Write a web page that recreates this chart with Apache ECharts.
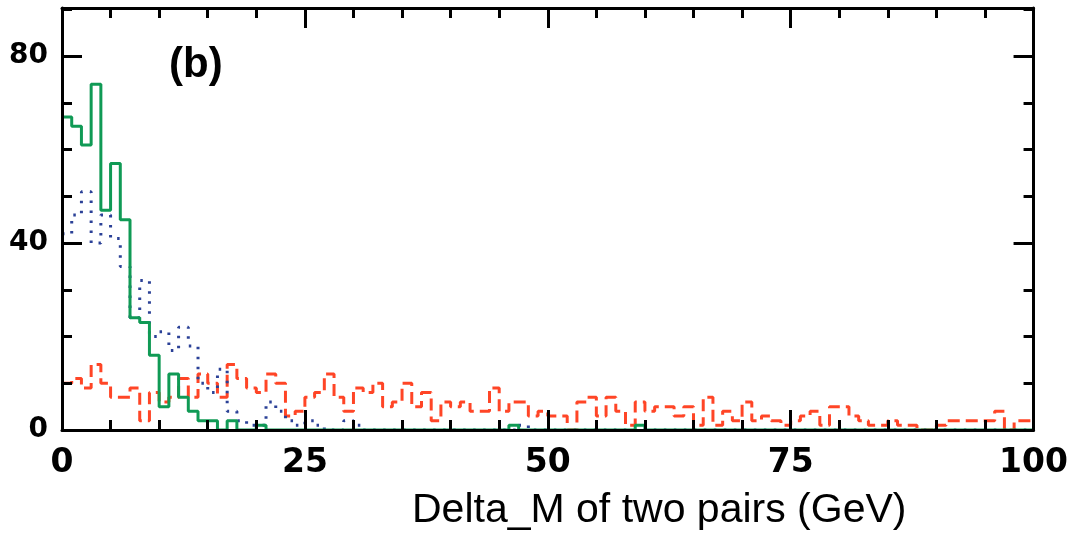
<!DOCTYPE html>
<html><head><meta charset="utf-8">
<script src="https://cdn.jsdelivr.net/npm/echarts@6/dist/echarts.min.js"></script>
<style>html,body{margin:0;padding:0;background:#fff}#c{width:1071px;height:535px}</style>
</head><body><div id="c"></div>
<script>
const binStart = 0, binWidth = 1;
const greenCounts = [67,65,61,74,47,57,45,24,23,16, 5,12,7,4,2,2,0,2,0,0, 1,0,0,0,0,0,0,0,0,0,
  0,0,0,0,0,0,0,0,0,0, 0,0,0,0,0,0,1,0,0,0, 0,0,0,0,0,0,0,0,0,1,
  0,0,0,0,0,0,0,0,0,0, 0,0,0,0,0,0,0,0,0,0, 0,0,0,0,0,0,0,0,0,0, 0,0,0,0,0,0,0,0,0,0];
const blueCounts = [42,46,51,40,46,41,35,24,32,20, 21,17,22,18,10,8,13,4,2,1, 1,6,4,2,1,2,1,0,0,2,
  1,0,0,0,0,0,0,0,0,0, 0,0,0,0,0,0,0,1,0,0, 0,0,0,0,0,0,0,0,0,0,
  0,0,0,0,0,0,0,0,0,0, 0,0,0,0,0,0,0,0,0,0, 0,0,0,0,0,0,0,0,0,0, 0,0,0,0,0,0,0,0,0,0];
const redCounts = [10,11,9,14,10,7,7,9,2,8, 6,7,11,7,12,10,7,14,11,9, 8,12,10,3,4,7,8,12,7,4,
  9,8,10,5,6,10,5,8,2,6, 5,6,4,4,9,4,6,6,3,4, 3,3,0,6,7,3,7,4,1,6,
  4,5,5,3,5,1,7,1,4,2, 6,2,3,2,1,2,3,4,1,5, 5,3,2,1,1,2,1,1,0,0, 1,2,2,2,2,2,4,0,2,2];
const xTicks = [0,25,50,75,100];
const yTicks = [0,40,80];
const panelLabel = '(b)';
const xTitle = 'Delta_M of two pairs (GeV)';

function steps(counts){
  const pts = counts.map((v,i)=>[binStart+i*binWidth, v]);
  pts.push([binStart+counts.length*binWidth, counts[counts.length-1]]);
  return pts;
}
const black = '#000';
function xAx(pos, showLabel){
  return {type:'value', position:pos, min:0, max:100, interval:25, z:10,
    axisLine:{show:true, onZero:false, lineStyle:{color:black,width:3}},
    axisTick:{show:true, inside:true, length:20, lineStyle:{color:black,width:3}},
    minorTick:{show:true, splitNumber:5, length:10, lineStyle:{color:black,width:3}},
    splitLine:{show:false}, minorSplitLine:{show:false},
    axisLabel:{show:showLabel, fontFamily:'DejaVu Sans', fontWeight:'bold', fontSize:33, color:black, margin:17,
      formatter:v=> xTicks.includes(v)? String(v):''}};
}
function yAx(pos, interval, len, showLabel, showLine){
  return {type:'value', position:pos, min:0, max:90.3, interval:interval, z:10,
    axisLine:{show:showLine, onZero:false, lineStyle:{color:black,width:3}},
    axisTick:{show:true, inside:true, length:len, lineStyle:{color:black,width:3}},
    splitLine:{show:false},
    axisLabel:{show:showLabel, fontFamily:'DejaVu Sans', fontWeight:'bold', fontSize:28, color:black, margin:14,
      showMaxLabel:false, formatter:v=> yTicks.includes(v)? String(v):''}};
}
const chart = echarts.init(document.getElementById('c'), null, {renderer:'canvas'});
chart.setOption({
  animation:false,
  backgroundColor:'#fff',
  grid:{left:62, right:37, top:8, bottom:105, show:false},
  xAxis:[xAx('bottom', true), xAx('top', false)],
  yAxis:[yAx('left',40,20,true,true), yAx('right',40,20,false,true), yAx('left',10,10,false,false), yAx('right',10,10,false,false)],
  series:[
    {type:'line', step:'end', symbol:'none', data:steps(redCounts), z:2,
      lineStyle:{color:'#ff4526', width:3, type:[12,6]}},
    {type:'line', step:'end', symbol:'none', data:steps(blueCounts), z:3,
      lineStyle:{color:'#2b4197', width:3, type:[2.5,7.5]}},
    {type:'line', step:'end', symbol:'none', data:steps(greenCounts), z:4,
      lineStyle:{color:'#109a55', width:3}}
  ],
  graphic:[
    {type:'text', left:169, top:44, style:{text:panelLabel, fontFamily:'Liberation Sans', fontWeight:'bold', fontSize:42, fill:black}},
    {type:'text', left:412, top:490, style:{text:xTitle, fontFamily:'Liberation Sans', fontSize:41, fill:black}}
  ]
});
</script></body></html>
